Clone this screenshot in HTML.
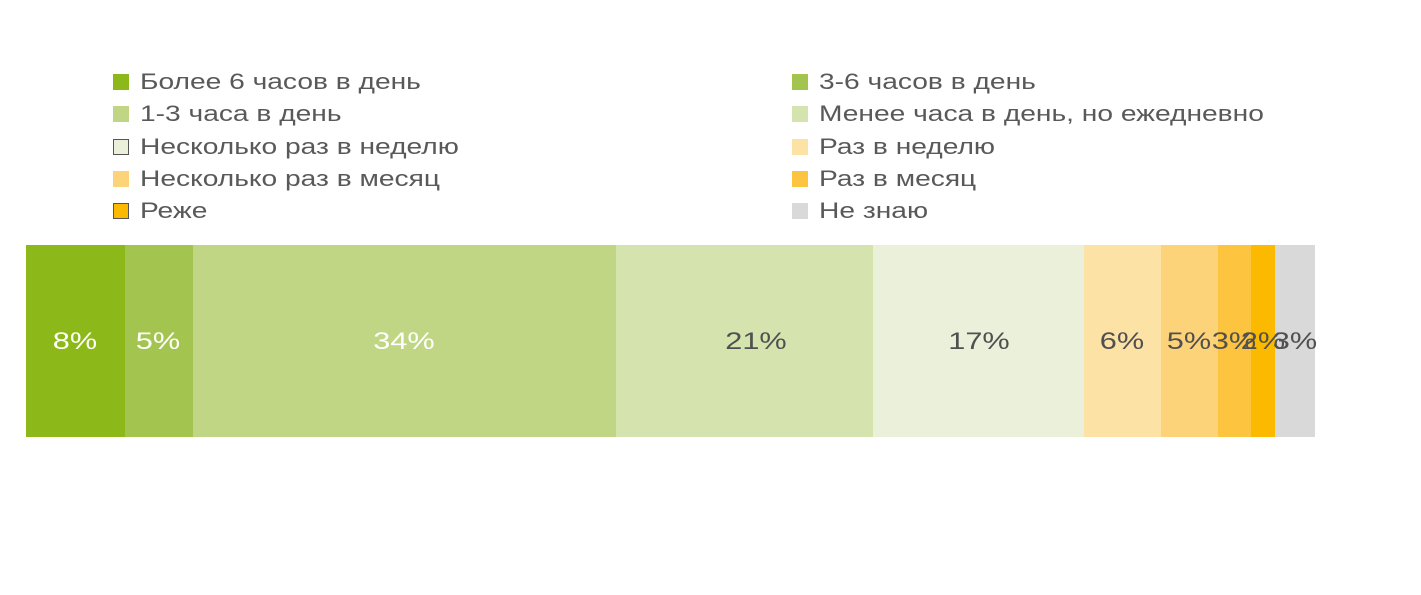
<!DOCTYPE html>
<html><head><meta charset="utf-8"><style>
body{margin:0;width:1421px;height:595px;background:#fff;position:relative;overflow:hidden;font-family:"Liberation Sans",sans-serif;}
.lg{position:absolute;font-size:22px;color:#595959;line-height:26px;white-space:nowrap;transform:scaleX(1.28);transform-origin:0 0}
.sq{position:absolute;width:16px;height:16px;box-sizing:border-box}
.seg{position:absolute;top:245px;height:192px}
.lb{position:absolute;top:328px;font-size:24px;line-height:28px;transform:translateX(-50%) scaleX(1.28);white-space:nowrap}
</style></head><body>
<div class="sq" style="left:113px;top:74px;background:#8cb919"></div><div class="lg" style="left:140px;top:69px">Более 6 часов в день</div>
<div class="sq" style="left:113px;top:106px;background:#c0d684"></div><div class="lg" style="left:140px;top:101px">1-3 часа в день</div>
<div class="sq" style="left:113px;top:139px;background:#ebf0da;border:1px solid #555"></div><div class="lg" style="left:140px;top:134px">Несколько раз в неделю</div>
<div class="sq" style="left:113px;top:171px;background:#fdd37a"></div><div class="lg" style="left:140px;top:166px">Несколько раз в месяц</div>
<div class="sq" style="left:113px;top:203px;background:#fbb900;border:1px solid #555"></div><div class="lg" style="left:140px;top:198px">Реже</div>
<div class="sq" style="left:792px;top:74px;background:#a3c550"></div><div class="lg" style="left:819px;top:69px">3-6 часов в день</div>
<div class="sq" style="left:792px;top:106px;background:#d5e3af"></div><div class="lg" style="left:819px;top:101px">Менее часа в день, но ежедневно</div>
<div class="sq" style="left:792px;top:139px;background:#fde2a6"></div><div class="lg" style="left:819px;top:134px">Раз в неделю</div>
<div class="sq" style="left:792px;top:171px;background:#fdc43f"></div><div class="lg" style="left:819px;top:166px">Раз в месяц</div>
<div class="sq" style="left:792px;top:203px;background:#d9d9d9"></div><div class="lg" style="left:819px;top:198px">Не знаю</div>

<div class="seg" style="left:26px;width:99px;background:#8cb919"></div>
<div class="seg" style="left:125px;width:68px;background:#a3c550"></div>
<div class="seg" style="left:193px;width:423px;background:#c0d684"></div>
<div class="seg" style="left:616px;width:257px;background:#d5e3af"></div>
<div class="seg" style="left:873px;width:211px;background:#ebf0da"></div>
<div class="seg" style="left:1084px;width:77px;background:#fde2a6"></div>
<div class="seg" style="left:1161px;width:57px;background:#fdd37a"></div>
<div class="seg" style="left:1218px;width:33px;background:#fdc43f"></div>
<div class="seg" style="left:1251px;width:24px;background:#fbb900"></div>
<div class="seg" style="left:1275px;width:40px;background:#d9d9d9"></div>

<div class="lb" style="left:75px;color:#fff">8%</div>
<div class="lb" style="left:158px;color:#fff">5%</div>
<div class="lb" style="left:404px;color:#fff">34%</div>
<div class="lb" style="left:756px;color:#505050">21%</div>
<div class="lb" style="left:979px;color:#505050">17%</div>
<div class="lb" style="left:1122px;color:#505050">6%</div>
<div class="lb" style="left:1189px;color:#505050">5%</div>
<div class="lb" style="left:1234px;color:#505050">3%</div>
<div class="lb" style="left:1263px;color:#505050">2%</div>
<div class="lb" style="left:1295px;color:#505050">3%</div>
</body></html>
